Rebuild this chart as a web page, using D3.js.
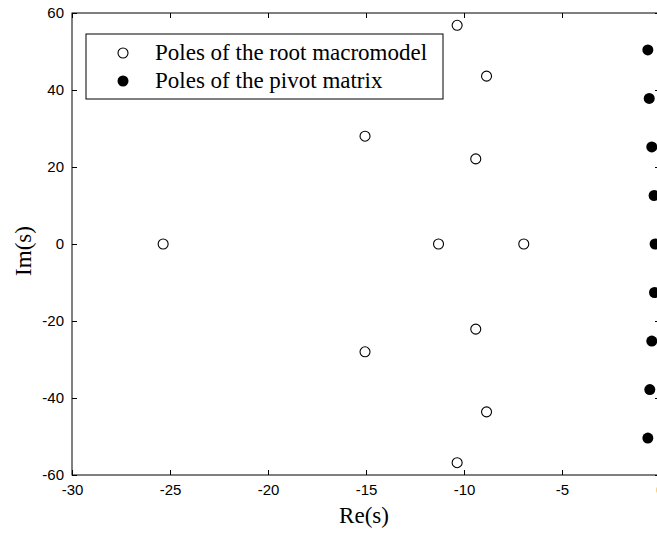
<!DOCTYPE html>
<meta charset="utf-8">
<style>
body{margin:0;background:#fff;}
.tick text{font-family:"Liberation Sans",Arial,sans-serif;font-size:15px;fill:#000;}
.lbl{font-family:"Liberation Serif","Times New Roman",serif;font-size:23px;fill:#000;}
</style>
<body>
<script src="https://d3js.org/d3.v7.min.js"></script>
<script>

// poles of the root macromodel
var rootRe=[-25.35,-15.05,-15.05,-11.3,-6.95,-10.35,-10.35,-8.85,-8.85,-9.4,-9.4];
var rootIm=[0,28,-28,0,0,56.8,-56.8,43.6,-43.6,22.1,-22.1];
// poles of the pivot matrix
var pivRe=[-0.62,-0.55,-0.42,-0.3,-0.25,-0.28,-0.42,-0.52,-0.62];
var pivIm=[50.4,37.8,25.2,12.6,0,-12.6,-25.2,-37.8,-50.4];

var xTicks=[-30,-25,-20,-15,-10,-5,0];
var yTicks=[-60,-40,-20,0,20,40,60];
var legendNames=["Poles of the root macromodel","Poles of the pivot matrix"];

var W=657,H=533;
var L=72,R=660,T=13,B=475;

var svg=d3.select("body").append("svg").attr("width",W).attr("height",H);

var x=d3.scaleLinear().domain([-30,0]).range([L,R]);
var y=d3.scaleLinear().domain([-60,60]).range([B,T]);
var fmt=d=>String(d);

// frame
svg.append("rect").attr("x",L).attr("y",T).attr("width",R-L).attr("height",B-T)
  .attr("fill","none").attr("stroke","#000").attr("stroke-width",1);

svg.append("g").attr("transform","translate(0,"+B+")")
  .call(d3.axisBottom(x).tickValues(xTicks).tickSizeInner(-5).tickSizeOuter(0).tickPadding(9).tickFormat(fmt));
svg.append("g").attr("transform","translate(0,"+T+")")
  .call(d3.axisTop(x).tickValues(xTicks).tickSizeInner(-5).tickSizeOuter(0).tickFormat(""));
svg.append("g").attr("transform","translate("+L+",0)")
  .call(d3.axisLeft(y).tickValues(yTicks).tickSizeInner(-5).tickSizeOuter(0).tickPadding(8).tickFormat(fmt));
svg.append("g").attr("transform","translate("+R+",0)")
  .call(d3.axisRight(y).tickValues(yTicks).tickSizeInner(-5).tickSizeOuter(0).tickFormat(""));
svg.selectAll(".domain").remove();
svg.selectAll(".tick line").attr("stroke","#000");

svg.selectAll("circle.root").data(rootRe).enter().append("circle").attr("class","root")
  .attr("cx",d=>x(d)).attr("cy",(d,i)=>y(rootIm[i])).attr("r",5)
  .attr("fill","#fff").attr("stroke","#000").attr("stroke-width",1.1);

svg.selectAll("circle.piv").data(pivRe).enter().append("circle").attr("class","piv")
  .attr("cx",d=>x(d)).attr("cy",(d,i)=>y(pivIm[i])).attr("r",5.5)
  .attr("fill","#000");

// legend
var lg=svg.append("g");
lg.append("rect").attr("x",86).attr("y",34).attr("width",357).attr("height",65)
  .attr("fill","#fff").attr("stroke","#000");
legendNames.forEach(function(n,i){
  var cy=53+i*28;
  lg.append("circle").attr("cx",123).attr("cy",cy).attr("r",i?5.5:5)
    .attr("fill",i?"#000":"#fff").attr("stroke","#000").attr("stroke-width",i?0:1.1);
  lg.append("text").attr("class","lbl").attr("x",155).attr("y",cy+7).text(n);
});

svg.append("text").attr("class","lbl").attr("x",364).attr("y",523)
  .attr("text-anchor","middle").text("Re(s)");
svg.append("text").attr("class","lbl").attr("transform","translate(31,251) rotate(-90)")
  .attr("text-anchor","middle").text("Im(s)");
</script>
</body>
